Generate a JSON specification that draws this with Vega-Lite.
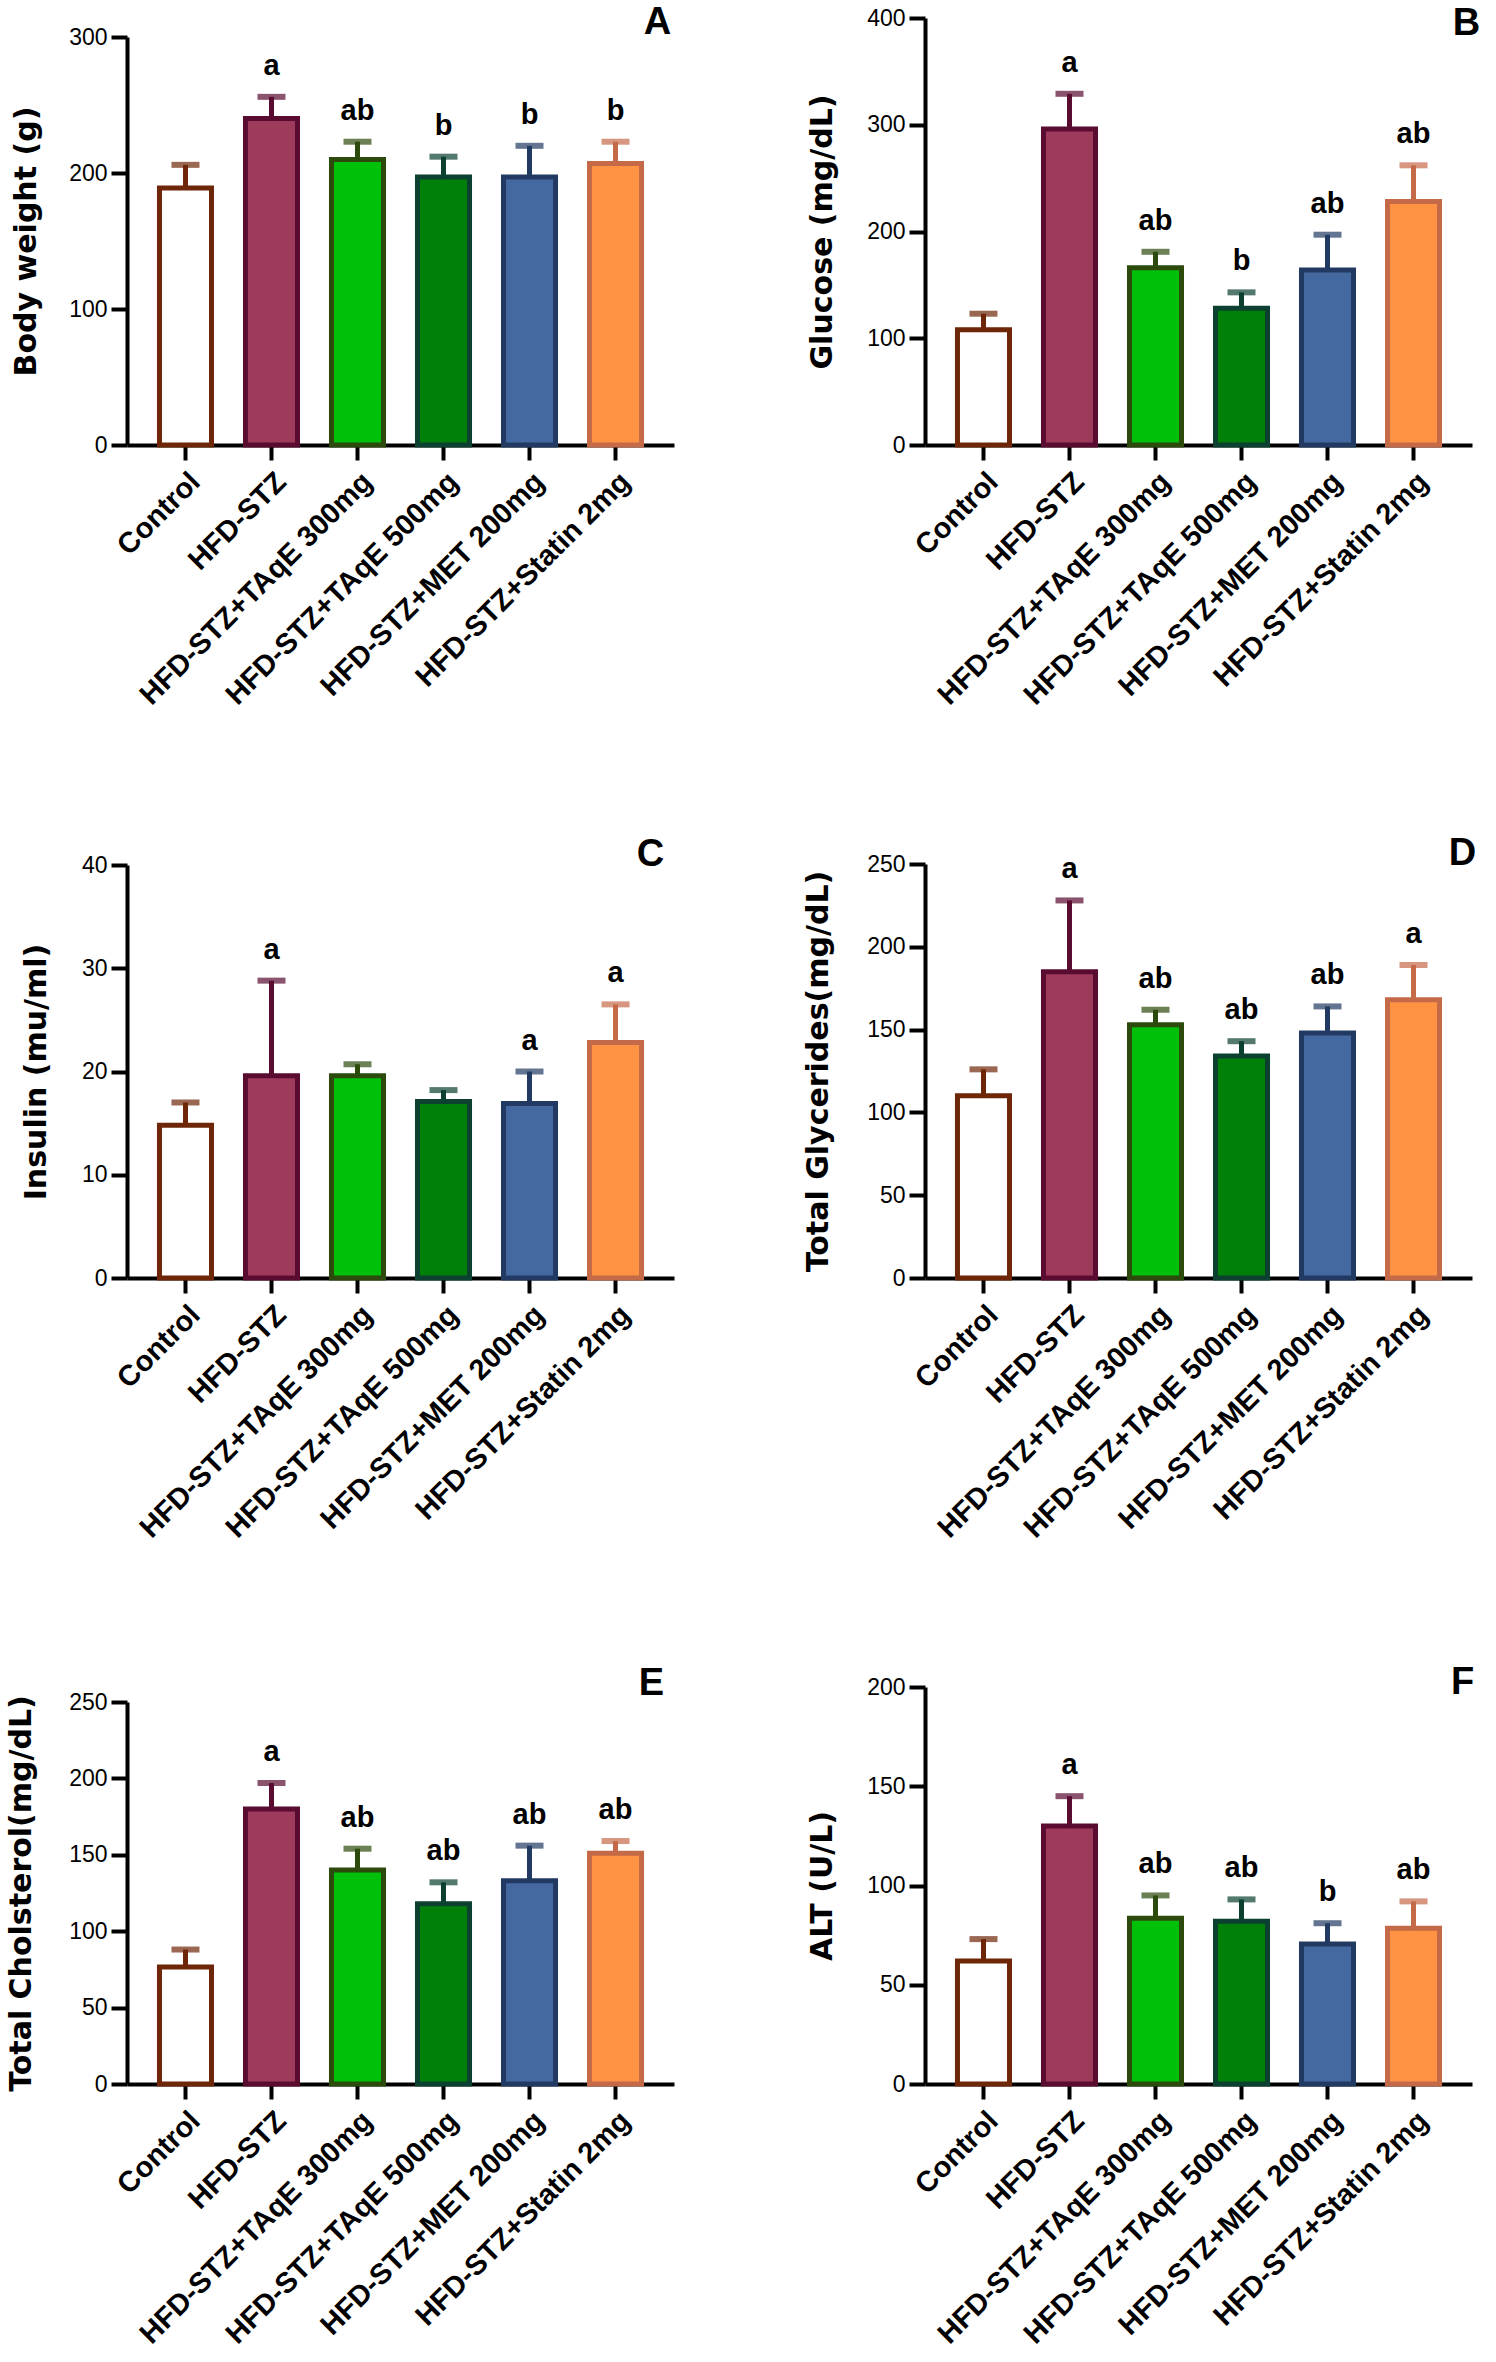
{
  "$schema": "https://vega.github.io/schema/vega-lite/v6.json",
  "background": "white",
  "padding": {"left": 5, "top": 4, "right": 0, "bottom": 0},
  "datasets": {
    "bars": [
      {"panel": "A", "group": "Control", "mean": 189, "upper": 206, "letter": ""},
      {"panel": "A", "group": "HFD-STZ", "mean": 240, "upper": 256, "letter": "a"},
      {"panel": "A", "group": "HFD-STZ+TAqE 300mg", "mean": 210, "upper": 223, "letter": "ab"},
      {"panel": "A", "group": "HFD-STZ+TAqE 500mg", "mean": 197, "upper": 212, "letter": "b"},
      {"panel": "A", "group": "HFD-STZ+MET 200mg", "mean": 197, "upper": 220, "letter": "b"},
      {"panel": "A", "group": "HFD-STZ+Statin 2mg", "mean": 207, "upper": 223, "letter": "b"},
      {"panel": "B", "group": "Control", "mean": 108, "upper": 123, "letter": ""},
      {"panel": "B", "group": "HFD-STZ", "mean": 296, "upper": 329, "letter": "a"},
      {"panel": "B", "group": "HFD-STZ+TAqE 300mg", "mean": 166, "upper": 181, "letter": "ab"},
      {"panel": "B", "group": "HFD-STZ+TAqE 500mg", "mean": 128, "upper": 143, "letter": "b"},
      {"panel": "B", "group": "HFD-STZ+MET 200mg", "mean": 164, "upper": 197, "letter": "ab"},
      {"panel": "B", "group": "HFD-STZ+Statin 2mg", "mean": 228, "upper": 262, "letter": "ab"},
      {"panel": "C", "group": "Control", "mean": 14.8, "upper": 17, "letter": ""},
      {"panel": "C", "group": "HFD-STZ", "mean": 19.6, "upper": 28.8, "letter": "a"},
      {"panel": "C", "group": "HFD-STZ+TAqE 300mg", "mean": 19.6, "upper": 20.7, "letter": ""},
      {"panel": "C", "group": "HFD-STZ+TAqE 500mg", "mean": 17.1, "upper": 18.2, "letter": ""},
      {"panel": "C", "group": "HFD-STZ+MET 200mg", "mean": 16.9, "upper": 20, "letter": "a"},
      {"panel": "C", "group": "HFD-STZ+Statin 2mg", "mean": 22.8, "upper": 26.5, "letter": "a"},
      {"panel": "D", "group": "Control", "mean": 110, "upper": 126, "letter": ""},
      {"panel": "D", "group": "HFD-STZ", "mean": 185, "upper": 228, "letter": "a"},
      {"panel": "D", "group": "HFD-STZ+TAqE 300mg", "mean": 153, "upper": 162, "letter": "ab"},
      {"panel": "D", "group": "HFD-STZ+TAqE 500mg", "mean": 134, "upper": 143, "letter": "ab"},
      {"panel": "D", "group": "HFD-STZ+MET 200mg", "mean": 148, "upper": 164, "letter": "ab"},
      {"panel": "D", "group": "HFD-STZ+Statin 2mg", "mean": 168, "upper": 189, "letter": "a"},
      {"panel": "E", "group": "Control", "mean": 76.5, "upper": 88, "letter": ""},
      {"panel": "E", "group": "HFD-STZ", "mean": 180, "upper": 197, "letter": "a"},
      {"panel": "E", "group": "HFD-STZ+TAqE 300mg", "mean": 140, "upper": 154, "letter": "ab"},
      {"panel": "E", "group": "HFD-STZ+TAqE 500mg", "mean": 118, "upper": 132, "letter": "ab"},
      {"panel": "E", "group": "HFD-STZ+MET 200mg", "mean": 133, "upper": 156, "letter": "ab"},
      {"panel": "E", "group": "HFD-STZ+Statin 2mg", "mean": 151, "upper": 159, "letter": "ab"},
      {"panel": "F", "group": "Control", "mean": 62, "upper": 73, "letter": ""},
      {"panel": "F", "group": "HFD-STZ", "mean": 130, "upper": 145, "letter": "a"},
      {"panel": "F", "group": "HFD-STZ+TAqE 300mg", "mean": 83.5, "upper": 95, "letter": "ab"},
      {"panel": "F", "group": "HFD-STZ+TAqE 500mg", "mean": 82, "upper": 93, "letter": "ab"},
      {"panel": "F", "group": "HFD-STZ+MET 200mg", "mean": 70.5, "upper": 81, "letter": "b"},
      {"panel": "F", "group": "HFD-STZ+Statin 2mg", "mean": 78.5, "upper": 92, "letter": "ab"}
    ]
  },
  "columns": 2,
  "spacing": {"row": 409, "column": 251},
  "bounds": "flush",
  "align": "each",
  "concat": [
    {
      "width": 547, "height": 427,
      "data": {"name": "bars"},
      "transform": [{"filter": "datum.panel == 'A'"}],
      "encoding": {
        "x": {"field": "group", "type": "nominal", "title": null,
              "scale": {"domain": ["Control", "HFD-STZ", "HFD-STZ+TAqE 300mg", "HFD-STZ+TAqE 500mg", "HFD-STZ+MET 200mg", "HFD-STZ+Statin 2mg"], "paddingInner": 0.395, "paddingOuter": 0.3775}},
        "y": {"field": "mean", "type": "quantitative", "title": "Body weight (g)",
              "scale": {"domain": [0, 300], "range": [427, 19], "nice": false},
              "axis": {"values": [0, 100, 200, 300], "titleX": -86}}
      },
      "layer": [
        {"mark": {"type": "bar", "strokeWidth": 5},
         "encoding": {
           "fill": {"field": "group", "type": "nominal", "legend": null, "scale": {"domain": ["Control", "HFD-STZ", "HFD-STZ+TAqE 300mg", "HFD-STZ+TAqE 500mg", "HFD-STZ+MET 200mg", "HFD-STZ+Statin 2mg"], "range": ["#ffffff", "#9e3a5c", "#00c00a", "#008009", "#4468a0", "#ff9243"]}},
           "stroke": {"field": "group", "type": "nominal", "legend": null, "scale": {"domain": ["Control", "HFD-STZ", "HFD-STZ+TAqE 300mg", "HFD-STZ+TAqE 500mg", "HFD-STZ+MET 200mg", "HFD-STZ+Statin 2mg"], "range": ["#6e2608", "#5a0c30", "#2c4a0c", "#0c4030", "#223a62", "#c46a48"]}}}},
        {"mark": {"type": "rule", "strokeWidth": 5},
         "encoding": {"y2": {"field": "upper"}, "stroke": {"field": "group", "type": "nominal", "legend": null}}},
        {"mark": {"type": "tick", "thickness": 6, "size": 28},
         "encoding": {"y": {"field": "upper", "type": "quantitative", "title": "Body weight (g)"}, "color": {"field": "group", "type": "nominal", "legend": null, "scale": {"domain": ["Control", "HFD-STZ", "HFD-STZ+TAqE 300mg", "HFD-STZ+TAqE 500mg", "HFD-STZ+MET 200mg", "HFD-STZ+Statin 2mg"], "range": ["#6e2608", "#5a0c30", "#2c4a0c", "#0c4030", "#223a62", "#c46a48"]}}}},
        {"mark": {"type": "text", "dy": -31, "baseline": "middle", "fontSize": 29, "fontWeight": "bold", "color": "#000"},
         "encoding": {"y": {"field": "upper", "type": "quantitative", "title": "Body weight (g)"}, "text": {"field": "letter"}}},
        {"transform": [{"filter": "datum.group == 'HFD-STZ+Statin 2mg'"}],
         "mark": {"type": "text", "dx": 42, "baseline": "middle", "fontSize": 38, "fontWeight": "bold", "color": "#000"},
         "encoding": {"y": {"datum": 310}, "text": {"value": "A"}}}
      ]
    },
    {
      "width": 547, "height": 427,
      "data": {"name": "bars"},
      "transform": [{"filter": "datum.panel == 'B'"}],
      "encoding": {
        "x": {"field": "group", "type": "nominal", "title": null,
              "scale": {"domain": ["Control", "HFD-STZ", "HFD-STZ+TAqE 300mg", "HFD-STZ+TAqE 500mg", "HFD-STZ+MET 200mg", "HFD-STZ+Statin 2mg"], "paddingInner": 0.395, "paddingOuter": 0.3775}},
        "y": {"field": "mean", "type": "quantitative", "title": "Glucose (mg/dL)",
              "scale": {"domain": [0, 400], "nice": false},
              "axis": {"values": [0, 100, 200, 300, 400], "titleX": -88}}
      },
      "layer": [
        {"mark": {"type": "bar", "strokeWidth": 5},
         "encoding": {
           "fill": {"field": "group", "type": "nominal", "legend": null, "scale": {"domain": ["Control", "HFD-STZ", "HFD-STZ+TAqE 300mg", "HFD-STZ+TAqE 500mg", "HFD-STZ+MET 200mg", "HFD-STZ+Statin 2mg"], "range": ["#ffffff", "#9e3a5c", "#00c00a", "#008009", "#4468a0", "#ff9243"]}},
           "stroke": {"field": "group", "type": "nominal", "legend": null, "scale": {"domain": ["Control", "HFD-STZ", "HFD-STZ+TAqE 300mg", "HFD-STZ+TAqE 500mg", "HFD-STZ+MET 200mg", "HFD-STZ+Statin 2mg"], "range": ["#6e2608", "#5a0c30", "#2c4a0c", "#0c4030", "#223a62", "#c46a48"]}}}},
        {"mark": {"type": "rule", "strokeWidth": 5},
         "encoding": {"y2": {"field": "upper"}, "stroke": {"field": "group", "type": "nominal", "legend": null}}},
        {"mark": {"type": "tick", "thickness": 6, "size": 28},
         "encoding": {"y": {"field": "upper", "type": "quantitative", "title": "Glucose (mg/dL)"}, "color": {"field": "group", "type": "nominal", "legend": null, "scale": {"domain": ["Control", "HFD-STZ", "HFD-STZ+TAqE 300mg", "HFD-STZ+TAqE 500mg", "HFD-STZ+MET 200mg", "HFD-STZ+Statin 2mg"], "range": ["#6e2608", "#5a0c30", "#2c4a0c", "#0c4030", "#223a62", "#c46a48"]}}}},
        {"mark": {"type": "text", "dy": -31, "baseline": "middle", "fontSize": 29, "fontWeight": "bold", "color": "#000"},
         "encoding": {"y": {"field": "upper", "type": "quantitative", "title": "Glucose (mg/dL)"}, "text": {"field": "letter"}}},
        {"transform": [{"filter": "datum.group == 'HFD-STZ+Statin 2mg'"}],
         "mark": {"type": "text", "dx": 53, "baseline": "middle", "fontSize": 38, "fontWeight": "bold", "color": "#000"},
         "encoding": {"y": {"datum": 394}, "text": {"value": "B"}}}
      ]
    },
    {
      "width": 547, "height": 424,
      "data": {"name": "bars"},
      "transform": [{"filter": "datum.panel == 'C'"}],
      "encoding": {
        "x": {"field": "group", "type": "nominal", "title": null,
              "scale": {"domain": ["Control", "HFD-STZ", "HFD-STZ+TAqE 300mg", "HFD-STZ+TAqE 500mg", "HFD-STZ+MET 200mg", "HFD-STZ+Statin 2mg"], "paddingInner": 0.395, "paddingOuter": 0.3775}},
        "y": {"field": "mean", "type": "quantitative", "title": "Insulin (mu/ml)",
              "scale": {"domain": [0, 40], "range": [424, 11], "nice": false},
              "axis": {"values": [0, 10, 20, 30, 40], "titleX": -76}}
      },
      "layer": [
        {"mark": {"type": "bar", "strokeWidth": 5},
         "encoding": {
           "fill": {"field": "group", "type": "nominal", "legend": null, "scale": {"domain": ["Control", "HFD-STZ", "HFD-STZ+TAqE 300mg", "HFD-STZ+TAqE 500mg", "HFD-STZ+MET 200mg", "HFD-STZ+Statin 2mg"], "range": ["#ffffff", "#9e3a5c", "#00c00a", "#008009", "#4468a0", "#ff9243"]}},
           "stroke": {"field": "group", "type": "nominal", "legend": null, "scale": {"domain": ["Control", "HFD-STZ", "HFD-STZ+TAqE 300mg", "HFD-STZ+TAqE 500mg", "HFD-STZ+MET 200mg", "HFD-STZ+Statin 2mg"], "range": ["#6e2608", "#5a0c30", "#2c4a0c", "#0c4030", "#223a62", "#c46a48"]}}}},
        {"mark": {"type": "rule", "strokeWidth": 5},
         "encoding": {"y2": {"field": "upper"}, "stroke": {"field": "group", "type": "nominal", "legend": null}}},
        {"mark": {"type": "tick", "thickness": 6, "size": 28},
         "encoding": {"y": {"field": "upper", "type": "quantitative", "title": "Insulin (mu/ml)"}, "color": {"field": "group", "type": "nominal", "legend": null, "scale": {"domain": ["Control", "HFD-STZ", "HFD-STZ+TAqE 300mg", "HFD-STZ+TAqE 500mg", "HFD-STZ+MET 200mg", "HFD-STZ+Statin 2mg"], "range": ["#6e2608", "#5a0c30", "#2c4a0c", "#0c4030", "#223a62", "#c46a48"]}}}},
        {"mark": {"type": "text", "dy": -31, "baseline": "middle", "fontSize": 29, "fontWeight": "bold", "color": "#000"},
         "encoding": {"y": {"field": "upper", "type": "quantitative", "title": "Insulin (mu/ml)"}, "text": {"field": "letter"}}},
        {"transform": [{"filter": "datum.group == 'HFD-STZ+Statin 2mg'"}],
         "mark": {"type": "text", "dx": 35, "baseline": "middle", "fontSize": 38, "fontWeight": "bold", "color": "#000"},
         "encoding": {"y": {"datum": 41}, "text": {"value": "C"}}}
      ]
    },
    {
      "width": 547, "height": 424,
      "data": {"name": "bars"},
      "transform": [{"filter": "datum.panel == 'D'"}],
      "encoding": {
        "x": {"field": "group", "type": "nominal", "title": null,
              "scale": {"domain": ["Control", "HFD-STZ", "HFD-STZ+TAqE 300mg", "HFD-STZ+TAqE 500mg", "HFD-STZ+MET 200mg", "HFD-STZ+Statin 2mg"], "paddingInner": 0.395, "paddingOuter": 0.3775}},
        "y": {"field": "mean", "type": "quantitative", "title": "Total Glycerides(mg/dL)",
              "scale": {"domain": [0, 250], "range": [424, 10], "nice": false},
              "axis": {"values": [0, 50, 100, 150, 200, 250], "titleX": -92}}
      },
      "layer": [
        {"mark": {"type": "bar", "strokeWidth": 5},
         "encoding": {
           "fill": {"field": "group", "type": "nominal", "legend": null, "scale": {"domain": ["Control", "HFD-STZ", "HFD-STZ+TAqE 300mg", "HFD-STZ+TAqE 500mg", "HFD-STZ+MET 200mg", "HFD-STZ+Statin 2mg"], "range": ["#ffffff", "#9e3a5c", "#00c00a", "#008009", "#4468a0", "#ff9243"]}},
           "stroke": {"field": "group", "type": "nominal", "legend": null, "scale": {"domain": ["Control", "HFD-STZ", "HFD-STZ+TAqE 300mg", "HFD-STZ+TAqE 500mg", "HFD-STZ+MET 200mg", "HFD-STZ+Statin 2mg"], "range": ["#6e2608", "#5a0c30", "#2c4a0c", "#0c4030", "#223a62", "#c46a48"]}}}},
        {"mark": {"type": "rule", "strokeWidth": 5},
         "encoding": {"y2": {"field": "upper"}, "stroke": {"field": "group", "type": "nominal", "legend": null}}},
        {"mark": {"type": "tick", "thickness": 6, "size": 28},
         "encoding": {"y": {"field": "upper", "type": "quantitative", "title": "Total Glycerides(mg/dL)"}, "color": {"field": "group", "type": "nominal", "legend": null, "scale": {"domain": ["Control", "HFD-STZ", "HFD-STZ+TAqE 300mg", "HFD-STZ+TAqE 500mg", "HFD-STZ+MET 200mg", "HFD-STZ+Statin 2mg"], "range": ["#6e2608", "#5a0c30", "#2c4a0c", "#0c4030", "#223a62", "#c46a48"]}}}},
        {"mark": {"type": "text", "dy": -31, "baseline": "middle", "fontSize": 29, "fontWeight": "bold", "color": "#000"},
         "encoding": {"y": {"field": "upper", "type": "quantitative", "title": "Total Glycerides(mg/dL)"}, "text": {"field": "letter"}}},
        {"transform": [{"filter": "datum.group == 'HFD-STZ+Statin 2mg'"}],
         "mark": {"type": "text", "dx": 49, "baseline": "middle", "fontSize": 38, "fontWeight": "bold", "color": "#000"},
         "encoding": {"y": {"datum": 256}, "text": {"value": "D"}}}
      ]
    },
    {
      "width": 547, "height": 397,
      "data": {"name": "bars"},
      "transform": [{"filter": "datum.panel == 'E'"}],
      "encoding": {
        "x": {"field": "group", "type": "nominal", "title": null,
              "scale": {"domain": ["Control", "HFD-STZ", "HFD-STZ+TAqE 300mg", "HFD-STZ+TAqE 500mg", "HFD-STZ+MET 200mg", "HFD-STZ+Statin 2mg"], "paddingInner": 0.395, "paddingOuter": 0.3775}},
        "y": {"field": "mean", "type": "quantitative", "title": "Total Cholsterol(mg/dL)",
              "scale": {"domain": [0, 250], "range": [397, 15], "nice": false},
              "axis": {"values": [0, 50, 100, 150, 200, 250], "titleX": -91}}
      },
      "layer": [
        {"mark": {"type": "bar", "strokeWidth": 5},
         "encoding": {
           "fill": {"field": "group", "type": "nominal", "legend": null, "scale": {"domain": ["Control", "HFD-STZ", "HFD-STZ+TAqE 300mg", "HFD-STZ+TAqE 500mg", "HFD-STZ+MET 200mg", "HFD-STZ+Statin 2mg"], "range": ["#ffffff", "#9e3a5c", "#00c00a", "#008009", "#4468a0", "#ff9243"]}},
           "stroke": {"field": "group", "type": "nominal", "legend": null, "scale": {"domain": ["Control", "HFD-STZ", "HFD-STZ+TAqE 300mg", "HFD-STZ+TAqE 500mg", "HFD-STZ+MET 200mg", "HFD-STZ+Statin 2mg"], "range": ["#6e2608", "#5a0c30", "#2c4a0c", "#0c4030", "#223a62", "#c46a48"]}}}},
        {"mark": {"type": "rule", "strokeWidth": 5},
         "encoding": {"y2": {"field": "upper"}, "stroke": {"field": "group", "type": "nominal", "legend": null}}},
        {"mark": {"type": "tick", "thickness": 6, "size": 28},
         "encoding": {"y": {"field": "upper", "type": "quantitative", "title": "Total Cholsterol(mg/dL)"}, "color": {"field": "group", "type": "nominal", "legend": null, "scale": {"domain": ["Control", "HFD-STZ", "HFD-STZ+TAqE 300mg", "HFD-STZ+TAqE 500mg", "HFD-STZ+MET 200mg", "HFD-STZ+Statin 2mg"], "range": ["#6e2608", "#5a0c30", "#2c4a0c", "#0c4030", "#223a62", "#c46a48"]}}}},
        {"mark": {"type": "text", "dy": -31, "baseline": "middle", "fontSize": 29, "fontWeight": "bold", "color": "#000"},
         "encoding": {"y": {"field": "upper", "type": "quantitative", "title": "Total Cholsterol(mg/dL)"}, "text": {"field": "letter"}}},
        {"transform": [{"filter": "datum.group == 'HFD-STZ+Statin 2mg'"}],
         "mark": {"type": "text", "dx": 36, "baseline": "middle", "fontSize": 38, "fontWeight": "bold", "color": "#000"},
         "encoding": {"y": {"datum": 262}, "text": {"value": "E"}}}
      ]
    },
    {
      "width": 547, "height": 397,
      "data": {"name": "bars"},
      "transform": [{"filter": "datum.panel == 'F'"}],
      "encoding": {
        "x": {"field": "group", "type": "nominal", "title": null,
              "scale": {"domain": ["Control", "HFD-STZ", "HFD-STZ+TAqE 300mg", "HFD-STZ+TAqE 500mg", "HFD-STZ+MET 200mg", "HFD-STZ+Statin 2mg"], "paddingInner": 0.395, "paddingOuter": 0.3775}},
        "y": {"field": "mean", "type": "quantitative", "title": "ALT (U/L)",
              "scale": {"domain": [0, 200], "nice": false},
              "axis": {"values": [0, 50, 100, 150, 200], "titleX": -88}}
      },
      "layer": [
        {"mark": {"type": "bar", "strokeWidth": 5},
         "encoding": {
           "fill": {"field": "group", "type": "nominal", "legend": null, "scale": {"domain": ["Control", "HFD-STZ", "HFD-STZ+TAqE 300mg", "HFD-STZ+TAqE 500mg", "HFD-STZ+MET 200mg", "HFD-STZ+Statin 2mg"], "range": ["#ffffff", "#9e3a5c", "#00c00a", "#008009", "#4468a0", "#ff9243"]}},
           "stroke": {"field": "group", "type": "nominal", "legend": null, "scale": {"domain": ["Control", "HFD-STZ", "HFD-STZ+TAqE 300mg", "HFD-STZ+TAqE 500mg", "HFD-STZ+MET 200mg", "HFD-STZ+Statin 2mg"], "range": ["#6e2608", "#5a0c30", "#2c4a0c", "#0c4030", "#223a62", "#c46a48"]}}}},
        {"mark": {"type": "rule", "strokeWidth": 5},
         "encoding": {"y2": {"field": "upper"}, "stroke": {"field": "group", "type": "nominal", "legend": null}}},
        {"mark": {"type": "tick", "thickness": 6, "size": 28},
         "encoding": {"y": {"field": "upper", "type": "quantitative", "title": "ALT (U/L)"}, "color": {"field": "group", "type": "nominal", "legend": null, "scale": {"domain": ["Control", "HFD-STZ", "HFD-STZ+TAqE 300mg", "HFD-STZ+TAqE 500mg", "HFD-STZ+MET 200mg", "HFD-STZ+Statin 2mg"], "range": ["#6e2608", "#5a0c30", "#2c4a0c", "#0c4030", "#223a62", "#c46a48"]}}}},
        {"mark": {"type": "text", "dy": -31, "baseline": "middle", "fontSize": 29, "fontWeight": "bold", "color": "#000"},
         "encoding": {"y": {"field": "upper", "type": "quantitative", "title": "ALT (U/L)"}, "text": {"field": "letter"}}},
        {"transform": [{"filter": "datum.group == 'HFD-STZ+Statin 2mg'"}],
         "mark": {"type": "text", "dx": 49, "baseline": "middle", "fontSize": 38, "fontWeight": "bold", "color": "#000"},
         "encoding": {"y": {"datum": 202}, "text": {"value": "F"}}}
      ]
    }
  ],
  "config": {
    "font": "Liberation Sans",
    "view": {"stroke": null},
    "axis": {"domainColor": "#000", "domainWidth": 4, "tickColor": "#000", "tickWidth": 4, "labelColor": "#000", "titleColor": "#000", "grid": false, "labelFont": "Liberation Sans", "titleFont": "DejaVu Sans", "titleFontWeight": "bold", "titleFontSize": 30},
    "axisY": {"tickSize": 16, "labelFontSize": 23, "labelPadding": 4, "titleAngle": 270, "titleBaseline": "bottom"},
    "axisX": {"tickSize": 15, "labelAngle": -45, "labelFontSize": 29, "labelFontWeight": "bold", "labelPadding": 7, "labelLimit": 0}
  }
}
